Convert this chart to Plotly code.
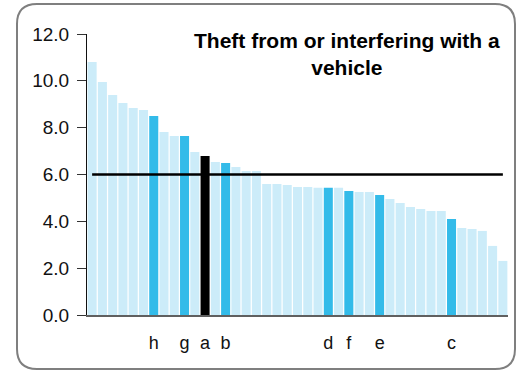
import plotly.graph_objects as go

# Rates per area, sorted descending
values = [10.8, 9.95, 9.39, 9.05, 8.84, 8.75, 8.50, 7.81, 7.64, 7.64,
          6.96, 6.79, 6.53, 6.49, 6.32, 6.15, 6.15, 5.59, 5.59, 5.55,
          5.47, 5.47, 5.43, 5.43, 5.43, 5.30, 5.25, 5.25, 5.12, 4.95,
          4.78, 4.61, 4.53, 4.44, 4.44, 4.10, 3.72, 3.67, 3.59, 2.95, 2.31]
# Named areas shown on the axis (blank for the others)
area_labels = ["", "", "", "", "", "", "h", "", "", "g",
               "", "a", "", "b", "", "", "", "", "", "",
               "", "", "", "d", "", "f", "", "", "e", "",
               "", "", "", "", "", "c", "", "", "", "", ""]
focus_area = "a"
average = 6.0
title_text = "Theft from or interfering with a<br>vehicle"
y_ticks = [0, 2, 4, 6, 8, 10, 12]

LIGHT = "#CCECF9"
BLUE = "#33BBE9"
DARK = "#000000"

positions = list(range(len(values)))
colors = []
for lab in area_labels:
    if lab == focus_area:
        colors.append(DARK)
    elif lab:
        colors.append(BLUE)
    else:
        colors.append(LIGHT)

W, H = 517, 374
L, R, T, B = 87, 9, 34, 59
PW, PH = W - L - R, H - T - B

fig = go.Figure()
fig.add_trace(go.Bar(x=positions, y=values, marker=dict(color=colors, line=dict(width=0)),
                     hoverinfo="y"))
fig.add_trace(go.Scatter(x=[positions[0], positions[-1]], y=[average, average], mode="lines",
                         line=dict(color="black", width=2.5), hoverinfo="skip"))


def to_paper(px, py):
    return f"{(px - L) / PW:.5f},{(H - B - py) / PH:.5f}"


# Rounded frame around the whole chart
x0, y0, x1, y1, r = 17, 4, 515, 369, 20
frame = (f"M{to_paper(x0 + r, y0)} L{to_paper(x1 - r, y0)} Q{to_paper(x1, y0)} {to_paper(x1, y0 + r)} "
         f"L{to_paper(x1, y1 - r)} Q{to_paper(x1, y1)} {to_paper(x1 - r, y1)} "
         f"L{to_paper(x0 + r, y1)} Q{to_paper(x0, y1)} {to_paper(x0, y1 - r)} "
         f"L{to_paper(x0, y0 + r)} Q{to_paper(x0, y0)} {to_paper(x0 + r, y0)} Z")

fig.update_layout(
    width=W, height=H,
    margin=dict(l=L, r=R, t=T, b=B, pad=0),
    paper_bgcolor="white", plot_bgcolor="white",
    showlegend=False,
    bargap=0.12,
    font=dict(family="Arial, Liberation Sans, sans-serif", color="#111111"),
    shapes=[dict(type="path", xref="paper", yref="paper", path=frame,
                 line=dict(color="#7f7f7f", width=2), layer="below")],
    annotations=[dict(text=f"<b>{title_text}</b>", xref="paper", yref="paper",
                      x=(347 - L) / PW, y=(H - B - 27) / PH, xanchor="center", yanchor="top",
                      showarrow=False, font=dict(size=21, color="#000000"))],
)
fig.update_xaxes(range=[-0.5, len(values) - 0.5], tickmode="array", tickvals=positions,
                 ticktext=area_labels, ticks="", showgrid=False, zeroline=False,
                 showline=True, linecolor="#606060", linewidth=2,
                 tickfont=dict(size=18, color="#111111"), ticklabelstandoff=10)
fig.update_yaxes(range=[0, 12], tickmode="array", tickvals=y_ticks,
                 ticktext=[f"{v:.1f}" for v in y_ticks], ticks="outside", ticklen=9,
                 tickcolor="#333333", showgrid=False, zeroline=False,
                 showline=True, linecolor="#111111", linewidth=1,
                 tickfont=dict(size=19, color="#111111"), ticklabelstandoff=4)

fig.write_html("out.html")
